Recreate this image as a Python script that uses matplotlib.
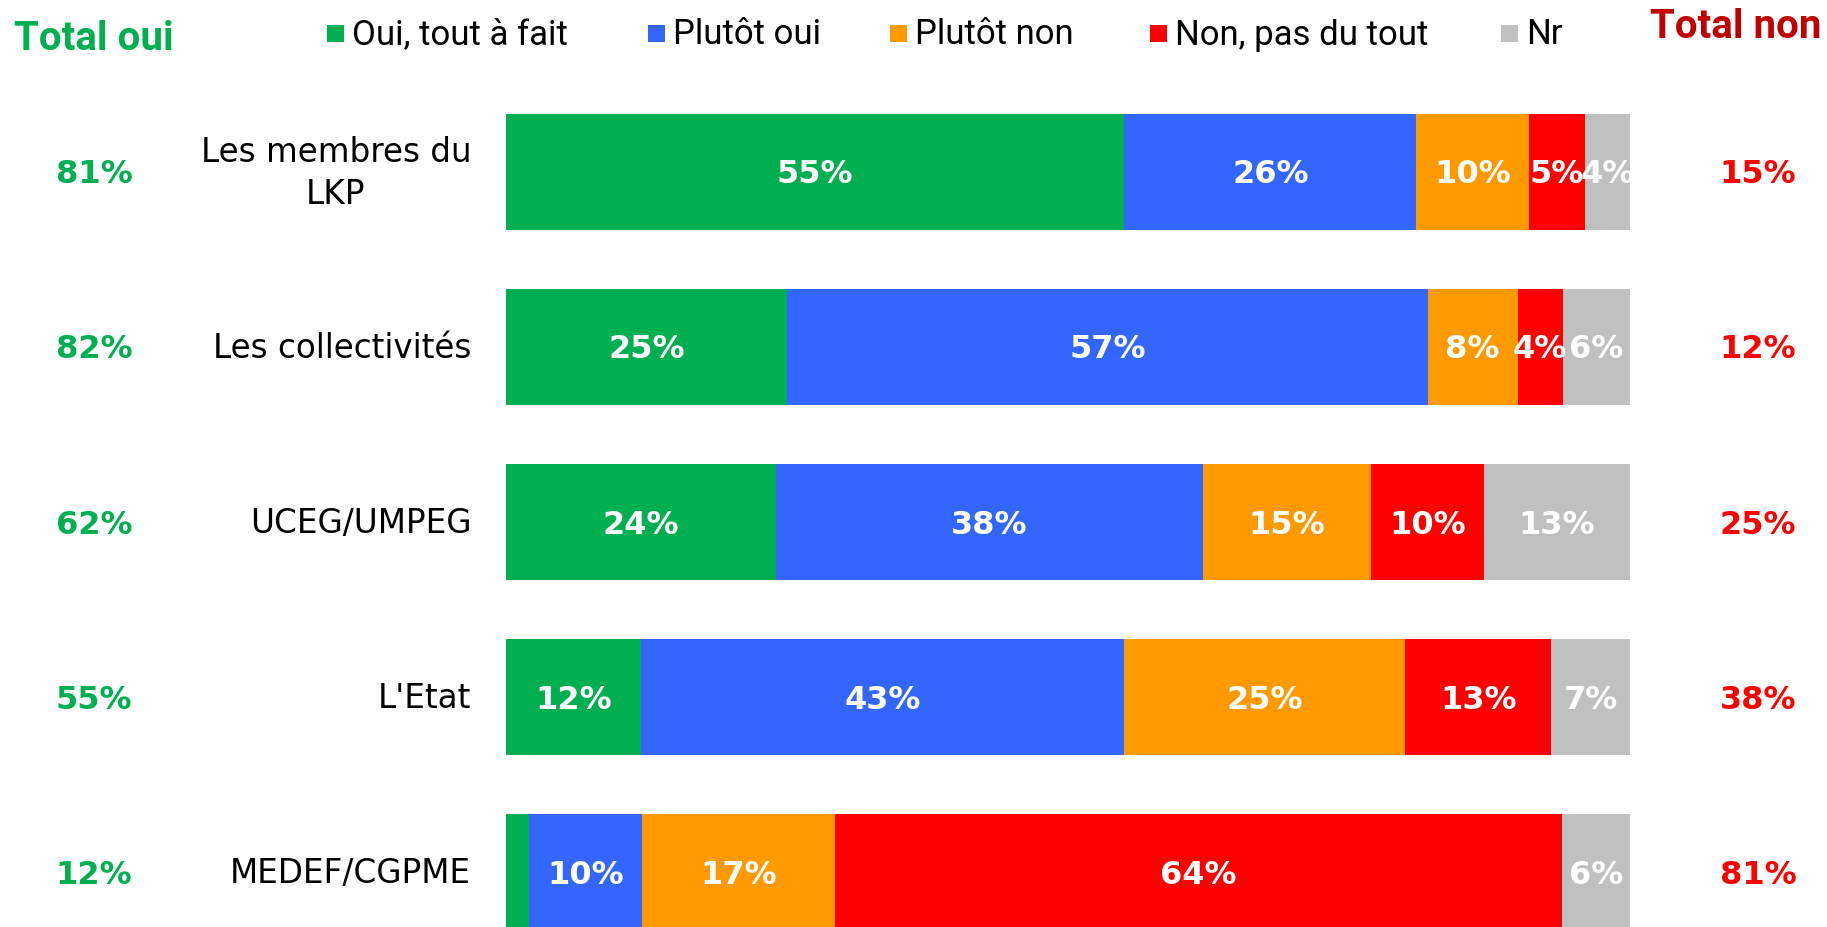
import numpy as np
import matplotlib
matplotlib.use("Agg")
import matplotlib.pyplot as plt
from matplotlib.patches import Rectangle

categories = ["Les membres du\nLKP", "Les collectivités", "UCEG/UMPEG", "L'Etat", "MEDEF/CGPME"]
series_names = ["Oui, tout à fait", "Plutôt oui", "Plutôt non", "Non, pas du tout", "Nr"]
oui_tout = [55, 25, 24, 12, 2]
plutot_oui = [26, 57, 38, 43, 10]
plutot_non = [10, 8, 15, 25, 17]
non_pas = [5, 4, 10, 13, 64]
nr = [4, 6, 13, 7, 6]
total_oui = [81, 82, 62, 55, 12]
total_non = [15, 12, 25, 38, 81]

colors = ["#00B050", "#3366FF", "#FF9900", "#FF0000", "#C0C0C0"]
GREEN = "#00B050"
RED = "#FF0000"
DARK_RED = "#C00000"

W, H = 1827, 928
fig = plt.figure(figsize=(W / 100, H / 100), dpi=100)
# axes spans the bar area, bars 175 px apart
ax = fig.add_axes([506 / W, 0, 1124 / W, (H - 85.5) / H])

raw = [oui_tout, plutot_oui, plutot_non, non_pas, nr]
data = np.array(raw, dtype=float)
# 100% stacked: normalise each row
data = data / data.sum(axis=0) * 100
y = np.arange(len(categories))
left = np.zeros(len(categories))
for i, name in enumerate(series_names):
    ax.barh(y, data[i], left=left, height=0.663, color=colors[i], label=name)
    for j in range(len(categories)):
        v = raw[i][j]
        if v >= 3:
            ax.text(left[j] + data[i][j] / 2, y[j] + 0.01, f"{v}%", ha="center", va="center",
                    color="white", fontsize=23, fontweight="bold")
    left += data[i]

ax.set_xlim(0, 100)
ax.set_ylim(4.311, -0.5)
ax.axis("off")

for j, cat in enumerate(categories):
    ax.text(-3.1, y[j], cat, ha="right", va="center", multialignment="center",
            fontsize=23.5, color="black", linespacing=1.35)
    # totals in outer columns
    ax.annotate(f"{total_oui[j]}%", xy=(94 / W, 0), xycoords=("figure fraction", "data"),
                xytext=(94 / W, y[j] + 0.01), textcoords=("figure fraction", "data"),
                ha="center", va="center", fontsize=23, fontweight="bold", color=GREEN,
                annotation_clip=False)
    ax.annotate(f"{total_non[j]}%", xy=(1758 / W, 0), xycoords=("figure fraction", "data"),
                xytext=(1758 / W, y[j] + 0.01), textcoords=("figure fraction", "data"),
                ha="center", va="center", fontsize=23, fontweight="bold", color=RED,
                annotation_clip=False)

fig.text(14 / W, 1 - 39 / H, "Total oui", ha="left", va="center", fontsize=29,
         fontweight="bold", color=GREEN, family=["Roboto", "DejaVu Sans"])
fig.text(1821 / W, 1 - 27 / H, "Total non", ha="right", va="center", fontsize=29,
         fontweight="bold", color=DARK_RED, family=["Roboto", "DejaVu Sans"])

# legend drawn by hand along the top
sq_x = [327, 648, 890, 1150, 1501]
for c, name, sx in zip(colors, series_names, sq_x):
    fig.add_artist(Rectangle((sx / W, 1 - 43 / H), 17 / W, 17 / H, transform=fig.transFigure,
                             facecolor=c, edgecolor="none"))
    fig.text((sx + 25) / W, 1 - 35 / H, name, ha="left", va="center", fontsize=25,
             color="black", family=["Roboto", "DejaVu Sans"])

fig.savefig("out.png", dpi=100)
